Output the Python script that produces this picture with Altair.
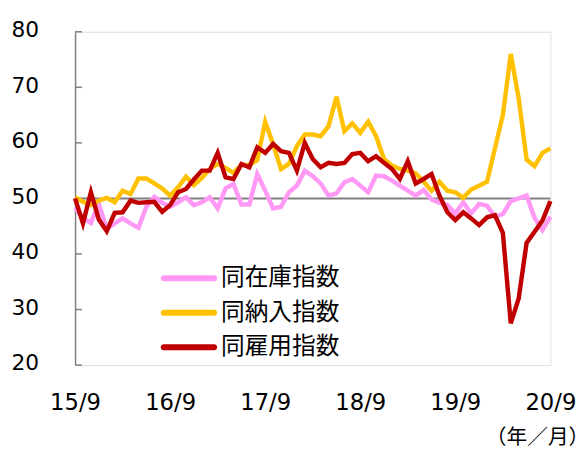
import altair as alt
import pandas as pd

series_names = ["同在庫指数", "同納入指数", "同雇用指数"]
series_colors = ["#FF99F5", "#FFC000", "#C00000"]

tick_labels = ["15/9", "16/9", "17/9", "18/9", "19/9", "20/9"]
tick_positions = [0, 12, 24, 36, 48, 60]
y_ticks = [20, 30, 40, 50, 60, 70, 80]
baseline = [50]

inventory = [48.3, 46.5, 45.6, 49.0, 44.5, 45.5, 46.4, 45.5, 44.7, 48.5, 50.3, 49.2, 48.5, 49.3, 50.2, 48.8,
             49.3, 50.2, 48.2, 51.8, 52.6, 48.9, 48.9, 54.4, 51.4, 48.2, 48.5, 51.1, 52.3, 55.0, 54.0, 52.7,
             50.5, 50.9, 52.9, 53.5, 52.3, 51.1, 54.1, 54.0, 53.2, 52.3,
             51.4, 50.5, 51.5, 49.8, 49.2, 48.8, 47.3, 49.3, 47.3, 49.0, 48.7, 46.7, 47.2, 49.5, 50.0, 50.5,
             46.5, 44.3, 46.7]
delivery = [50.2, 49.4, 48.8, 49.6, 50.1, 49.3, 51.4, 50.8, 53.6, 53.6, 52.7, 51.8, 50.5, 52.0, 53.9, 52.4,
            53.7, 55.3, 56.2, 55.5, 54.6, 56.0, 56.0, 56.9, 63.8, 59.8, 55.3, 56.2, 59.4, 61.5, 61.5, 61.2,
            63.0, 68.3, 62.1, 63.5, 61.8, 63.8, 61.2, 57.1, 55.9, 55.3,
            55.0, 54.5, 53.0, 51.4, 53.0, 51.4, 51.1, 50.1, 51.6, 52.3, 53.0, 59.0, 65.0, 76.0, 68.0, 57.0,
            55.8, 58.2, 59.0]
employment = [50.0, 45.5, 51.1, 46.2, 44.1, 47.4, 47.5, 49.6, 49.2, 49.3, 49.4, 47.6, 48.8, 51.1, 51.7, 53.4,
              55.0, 55.0, 58.2, 53.8, 53.5, 56.2, 55.6, 59.2, 58.2, 59.8, 58.5, 58.2, 55.0, 60.0, 57.1, 55.6,
              56.4, 56.2, 56.4, 58.0, 58.2, 56.7, 57.6, 56.4, 55.3, 53.5,
              56.7, 52.7, 53.5, 54.4, 50.5, 47.5, 46.1, 47.5, 46.4, 45.2, 46.6, 47.0, 43.8, 27.5, 32.0, 42.0,
              44.0, 46.0, 49.5]

rows = []
for name, vals in zip(series_names, [inventory, delivery, employment]):
    for i, v in enumerate(vals):
        rows.append({"series": name, "idx": i, "value": v})
df = pd.DataFrame(rows)

CJK = "Noto Sans CJK JP"
NUM = "DejaVu Sans"
label_expr = "{" + ",".join(f"'{p}':'{l}'" for p, l in zip(tick_positions, tick_labels)) + "}[datum.value]"

x_scale = alt.Scale(domain=[0, 60], nice=False, zero=False)
y_scale = alt.Scale(domain=[20, 80], nice=False, zero=False)
color_scale = alt.Scale(domain=series_names, range=series_colors)

lines = alt.Chart(df).mark_line(strokeWidth=4.5, strokeJoin="miter").encode(
    x=alt.X("idx:Q", scale=x_scale,
            axis=alt.Axis(values=tick_positions, labelExpr=label_expr, domain=False, ticks=False,
                          grid=False, labelFontSize=23, labelFont=NUM, labelColor="#000000",
                          labelFlush=False, labelOverlap=False, labelBound=False,
                          labelPadding=27, title="（年／月）", titleFont=CJK, titleFontSize=21,
                          titleFontWeight="normal", titleColor="#000000", titleAlign="right",
                          titleAnchor="end", titleX=521, titleY=74, titleBaseline="middle")),
    y=alt.Y("value:Q", scale=y_scale,
            axis=alt.Axis(values=y_ticks, domainColor="#808080", domainWidth=1.5, ticks=False, grid=False,
                          labelFontSize=22, labelFont=NUM, labelColor="#000000", labelPadding=37,
                          labelOffset=-2, title=None)),
    color=alt.Color("series:N", scale=color_scale, legend=None),
)

base_rule = alt.Chart(pd.DataFrame({"y": baseline})).mark_rule(color="#808080", strokeWidth=2).encode(
    y=alt.Y("y:Q", scale=y_scale)
)

tick_rules = alt.Chart(pd.DataFrame({"y": y_ticks})).mark_rule(color="#808080", strokeWidth=1.5).encode(
    y=alt.Y("y:Q", scale=y_scale), x=alt.value(0), x2=alt.value(7)
)

# legend drawn as a small layer (one row per series)
legend_layers = []
for k, name in enumerate(series_names):
    row_y = 250 + 35 * k
    ldf = pd.DataFrame({"series": [name]})
    sym = alt.Chart(ldf).mark_rule(strokeWidth=6, strokeCap="round").encode(
        x=alt.value(90), x2=alt.value(141), y=alt.value(row_y),
        color=alt.Color("series:N", scale=color_scale, legend=None),
    )
    lab = alt.Chart(ldf).mark_text(align="left", baseline="middle", font=CJK, fontSize=24,
                                   color="#000000").encode(
        x=alt.value(148), y=alt.value(row_y), text="series:N"
    )
    legend_layers += [sym, lab]

chart = alt.layer(base_rule, tick_rules, lines, *legend_layers).properties(
    width=482, height=338, autosize="none",
    padding={"left": 68, "top": 21, "right": 27, "bottom": 81},
).configure_view(stroke=None).configure(background="#ffffff")

chart.save("out.html", embed_options={"renderer": "svg", "actions": False})
